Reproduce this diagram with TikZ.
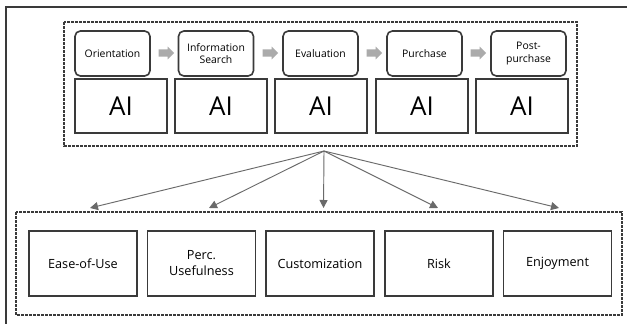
\documentclass[tikz,border=0pt]{standalone}
\usepackage{fontspec}
\setmainfont{Open Sans}
\usetikzlibrary{arrows.meta,shapes.arrows}
\definecolor{ln}{HTML}{3A3A3A}
\definecolor{ar}{HTML}{6A6A6A}
\definecolor{blk}{HTML}{ABABAB}
\begin{document}
\begin{tikzpicture}[x=0.75pt,y=-0.75pt,
  stagebox/.style={draw=ln,line width=1.2pt,rounded corners=4pt,minimum width=56.25pt,minimum height=33.75pt,align=center,font=\fontsize{7.8}{9.5}\selectfont,inner sep=1pt},
  aibox/.style={draw=ln,line width=0.9pt,minimum width=69pt,minimum height=40.5pt,font=\fontsize{19.5}{20}\selectfont,inner sep=0pt},
  factorbox/.style={draw=ln,line width=0.9pt,minimum width=81pt,minimum height=48.75pt,align=center,font=\fontsize{9.5}{12}\selectfont,inner sep=1pt},
  dashbox/.style={draw=ln,line width=0.8pt,dash pattern=on 2pt off 1pt},
  blkarrow/.style={single arrow,fill=blk,draw=none,minimum height=11.5pt,inner sep=2.6pt,single arrow head extend=2pt,single arrow tip angle=90},
  conn/.style={draw=ar,line width=0.7pt,-{Triangle[length=6pt,width=6pt]}}]
\useasboundingbox (0,0) rectangle (627,324);
\fill[white] (0,0) rectangle (627,324);
% outer frame
\draw[ln,line width=0.9pt] (6,324) -- (6,7) -- (627,7);
% dashed boxes
\draw[dashbox] (64,22) rectangle (577,146);
\draw[dashbox] (16,212) rectangle (622,315);
% stages
\node[stagebox] (s1) at (112.5,53.5) {Orientation};
\node[stagebox] (s2) at (216,53.5) {Information\\Search};
\node[stagebox] (s3) at (320.5,53.5) {Evaluation};
\node[stagebox] (s4) at (424.5,53.5) {Purchase};
\node[stagebox] (s5) at (528.5,53.5) {Post-\\purchase};
% block arrows
\node[blkarrow] (b1) at (164.5,53) {};
\node[blkarrow] (b2) at (268.5,53) {};
\node[blkarrow] (b3) at (372.5,53) {};
\node[blkarrow] (b4) at (476.5,53) {};
% AI boxes
\node[aibox] (a1) at (121,106) {AI};
\node[aibox] (a2) at (221,106) {AI};
\node[aibox] (a3) at (321,106) {AI};
\node[aibox] (a4) at (422,106) {AI};
\node[aibox] (a5) at (522,106) {AI};
% factors
\node[factorbox] (f1) at (83,263.5) {Ease-of-Use};
\node[factorbox] (f2) at (201.5,263.5) {Perc.\\Usefulness};
\node[factorbox] (f3) at (320,263.5) {Customization};
\node[factorbox] (f4) at (439,263.5) {Risk};
\node[factorbox] (f5) at (557.5,263.5) {Enjoyment};
% connectors
\coordinate (o) at (324,151);
\coordinate (t1) at (90,208);
\coordinate (t2) at (209,208);
\coordinate (t3) at (323.5,208);
\coordinate (t4) at (438,208);
\coordinate (t5) at (559,208);
\foreach \t in {t1,t2,t3,t4,t5} \draw[conn] (o) -- (\t);
\end{tikzpicture}
\end{document}
